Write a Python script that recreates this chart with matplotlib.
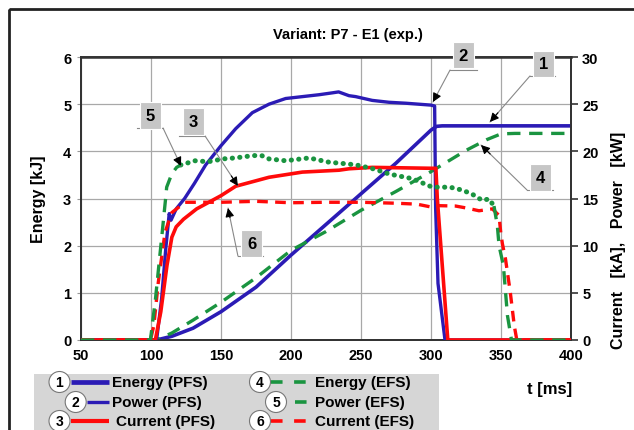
import numpy as np
import matplotlib
matplotlib.use("Agg")
import matplotlib.pyplot as plt
from matplotlib.patches import Rectangle, Circle

plt.rcParams['font.family'] = ['Liberation Sans', 'DejaVu Sans']
plt.rcParams['font.weight'] = 'bold'

# Energy (PFS) [kJ]
t_e_pfs = [50, 104, 115, 130, 150, 175, 200, 225, 250, 275, 300, 304, 308, 400]
e_pfs = [0, 0, 0.08, 0.25, 0.6, 1.12, 1.8, 2.45, 3.1, 3.75, 4.45, 4.53, 4.54, 4.54]

# Energy (EFS) [kJ]
t_e_efs = [50, 104, 115, 130, 150, 175, 200, 225, 250, 275, 300, 325, 340, 350, 360, 400]
e_efs = [0, 0, 0.15, 0.42, 0.8, 1.32, 1.9, 2.3, 2.75, 3.15, 3.57, 4.02, 4.25, 4.37, 4.38, 4.38]

# Power (PFS) [kW]
t_p_pfs = [50, 104, 107.6, 110.5, 113, 114.3, 118, 124, 131, 139, 150, 160.5, 172.4,
           184.3, 196.2, 208.1, 220, 229.5, 234, 241.4, 246.2, 258, 270, 282, 300,
           302.6, 303.3, 305, 310, 400]
p_pfs = [0, 0, 4.4, 9.6, 13.4, 12.7, 13.9, 15.0, 16.6, 18.55, 20.6, 22.4, 24.1,
         25.0, 25.6, 25.8, 26.0, 26.2, 26.3, 25.9, 25.8, 25.4, 25.2, 25.1, 24.9,
         24.8, 14, 6, 0, 0]

# Power (EFS) [kW]
t_p_efs = [50, 99.6, 103.2, 105.6, 108, 110.4, 111.2, 114.8, 118.3, 121.2, 131.4,
           140.9, 151.6, 160, 173, 179, 184.3, 196.2, 212.9, 227.1, 241.4, 248.6,
           260, 270, 286.7, 301, 313.6, 322, 329, 336.6, 341.4, 345, 347.4, 348.6,
           351.7, 354.6, 357.5, 400]
p_efs = [0, 0, 4.35, 7.9, 11.4, 14.95, 16.2, 17.6, 18.3, 18.55, 19.0,
         18.9, 19.2, 19.3, 19.55, 19.55, 19.2, 19.0, 19.3, 18.85, 18.65, 18.5,
         18.1, 17.6, 17.1, 16.2, 16.2, 15.9, 15.5, 14.8, 14.95, 14.2, 12.1, 10.0,
         7.9, 2.6, 0, 0]

# Current (PFS) [kA]
t_c_pfs = [50, 103.1, 107, 111.4, 114.9, 118, 123.2, 132.6, 150, 160.5, 184.3,
           208.1, 234.3, 241.4, 258, 280, 301.7, 303.5, 304.5, 312, 400]
c_pfs = [0, 0, 3, 7.9, 10.9, 12.0, 12.8, 13.9, 15.3, 16.3, 17.25,
         17.8, 18.0, 18.15, 18.3, 18.25, 18.2, 18.2, 15, 0, 0]

# Current (EFS) [kA]
t_c_efs = [50, 99.6, 102, 105.2, 110, 114.8, 124.3, 150, 175, 200, 225, 250, 275,
           290, 300, 305.7, 317.6, 325, 334.3, 343.8, 348.6, 349.8, 351, 353.2,
           356.6, 359.5, 361.3, 400]
c_efs = [0, 0, 1.5, 6.1, 11.4, 13.5, 14.6, 14.6, 14.7, 14.55, 14.6, 14.6, 14.5,
         14.4, 14.1, 14.24, 14.2, 14.0, 13.7, 13.9, 13.2, 11.4, 10.2, 8.6,
         5.1, 1.5, 0, 0]

BLUE = '#2b1bb5'
RED = '#ff0a0a'
GREEN = '#1a9440'
GRAY_BOX = '#c6c6c6'

fig = plt.figure(figsize=(6.34, 4.31), dpi=100)

# overlay in pixel coordinates for frame and legend
ov = fig.add_axes([0, 0, 1, 1], zorder=-1)
ov.set_xlim(0, 634)
ov.set_ylim(431, 0)
ov.axis('off')
ov.add_patch(Rectangle((9, 9.5), 700, 500, fill=False, ec='#222222', lw=2))

ax = fig.add_axes([81 / 634, 1 - 341 / 431, 490 / 634, 283 / 431])
ax2 = ax.twinx()

ax.plot(t_e_pfs, e_pfs, color=BLUE, lw=2.6, solid_capstyle='butt', zorder=3)
ax.plot(t_e_efs, e_efs, color=GREEN, lw=2.4, dashes=(4, 2.6), zorder=3)

ax2.plot(t_p_pfs, p_pfs, color=BLUE, lw=2.4, zorder=3)
ax2.plot(t_c_pfs, c_pfs, color=RED, lw=2.6, zorder=3)
ax2.plot(t_c_efs, c_efs, color=RED, lw=2.4, dashes=(3.2, 2.2), zorder=3)

tp = np.array(t_p_efs)
pp = np.array(p_efs)
rise = tp <= 121.2
mid = (tp >= 121.2) & (tp <= 345)
fall = tp >= 345
ax2.plot(tp[rise], pp[rise], color=GREEN, lw=2.4, dashes=(4, 2.6), zorder=3)
ax2.plot(tp[mid], pp[mid], color=GREEN, lw=3.6, dashes=(0.05, 1.45),
         dash_capstyle='round', zorder=3)
ax2.plot(tp[fall], pp[fall], color=GREEN, lw=2.4, dashes=(4, 2.6), zorder=3)

ax.set_xlim(50, 400)
ax.set_ylim(0, 6)
ax2.set_ylim(0, 30)
ax.set_xticks(np.arange(50, 401, 50))
ax.set_yticks(np.arange(0, 7, 1))
ax2.set_yticks(np.arange(0, 31, 5))
ax.grid(True, color='#a8a8a8', lw=0.9)
ax.set_axisbelow(True)

for a in (ax, ax2):
    for s in a.spines.values():
        s.set_color('#333333')
        s.set_linewidth(1.3)
ax.spines['top'].set_linewidth(1.8)

ax.tick_params(axis='y', length=3, color='#999999', labelsize=10.5, pad=4)
ax.tick_params(axis='x', length=0, labelsize=10.5, pad=6)
ax2.tick_params(axis='y', length=5, color='#333333', width=1.2, labelsize=10.5, pad=3)
for lab in ax.get_xticklabels() + ax.get_yticklabels() + ax2.get_yticklabels():
    lab.set_fontweight('bold')

ax.set_ylabel('Energy [kJ]', fontsize=11.5, fontweight='bold', labelpad=12)
fig.text(619 / 634, 1 - 240 / 431, 'Current   [kA],   Power   [kW]', rotation=90,
         ha='center', va='center', fontsize=11.5, fontweight='bold')
fig.text(348 / 634, 1 - 35 / 431, 'Variant: P7 - E1 (exp.)', ha='center', va='center',
         fontsize=10.5, fontweight='bold')


# numbered callouts: (label, box centre, underline x-range, underline y, leader start x, tip)
callouts = [
    ('1', (380.4, 29.26), (370.7, 388.6), 27.99, 370.7, (342.1, 23.11)),
    ('2', (323.2, 30.21), (313.6, 332.9), 28.62, 313.6, (301.4, 25.23)),
    ('3', (130.4, 23.16), (120.0, 138.6), 21.63, 138.6, (162.1, 16.33)),
    ('4', (378.2, 17.23), (368.6, 387.1), 15.90, 368.6, (335.7, 20.67)),
    ('5', (99.6, 23.80), (90.0, 108.6), 22.47, 108.6, (121.4, 18.45)),
    ('6', (172.1, 10.23), (162.1, 180.0), 8.90, 162.1, (155.0, 13.99)),
]
for lab, (bx, by), (ux0, ux1), uy, sx, (tx, ty) in callouts:
    ax2.text(bx, by, lab, ha='center', va='center', fontsize=12, fontweight='bold',
             zorder=6, clip_on=False,
             bbox=dict(boxstyle='square,pad=0.35', fc=GRAY_BOX, ec='white', lw=0.8))
    ax2.plot([ux0, ux1], [uy, uy], color='#888888', lw=0.8, zorder=5, clip_on=False)
    ax2.annotate('', xy=(tx, ty), xytext=(sx, uy), annotation_clip=False, zorder=5,
                 arrowprops=dict(arrowstyle='-', color='#888888', lw=0.8,
                                 shrinkA=0, shrinkB=0))
    hx = tx + (sx - tx) * 0.2
    hy = ty + (uy - ty) * 0.2
    ax2.annotate('', xy=(tx, ty), xytext=(hx, hy), annotation_clip=False, zorder=6,
                 arrowprops=dict(arrowstyle='-|>', color='black', lw=0.8,
                                 mutation_scale=13, shrinkA=0, shrinkB=0))

# legend panel
ov.add_patch(Rectangle((34, 375), 405, 80, fc='#d6d6d6', ec='none'))
leg_items = [
    ('1', (59.5, 383), (71, 109), BLUE, 3.4, None, 'Energy (PFS)', 112),
    ('2', (75.7, 403), (87, 109), BLUE, 2.4, None, 'Power (PFS)', 112),
    ('3', (59.5, 422), (71, 109), RED, 3.0, None, 'Current (PFS)', 116),
    ('4', (260, 383), (271, 308), GREEN, 2.6, (3.2, 3.2), 'Energy (EFS)', 315),
    ('5', (276, 403), (295, 308), GREEN, 2.6, (3.2, 3.2), 'Power (EFS)', 315),
    ('6', (260, 422), (271, 308), RED, 2.6, (3.2, 3.2), 'Current (EFS)', 315),
]
for num, (cx, cy), (lx0, lx1), col, lw, dash, txt, tx in leg_items:
    if dash is None:
        ov.plot([lx0, lx1], [cy, cy], color=col, lw=lw, solid_capstyle='butt')
    else:
        ov.plot([lx0, lx1], [cy, cy], color=col, lw=lw, dashes=dash)
    ov.add_patch(Circle((cx, cy), 10.5, fc='white', ec='#777777', lw=0.8, zorder=4))
    ov.text(cx, cy + 0.5, num, ha='center', va='center', fontsize=10, fontweight='bold', zorder=5)
    ov.text(tx, cy, txt, ha='left', va='center', fontsize=11, fontweight='bold')

ov.text(550, 390, 't [ms]', ha='center', va='center', fontsize=12, fontweight='bold')

fig.savefig('out.png', dpi=100)
